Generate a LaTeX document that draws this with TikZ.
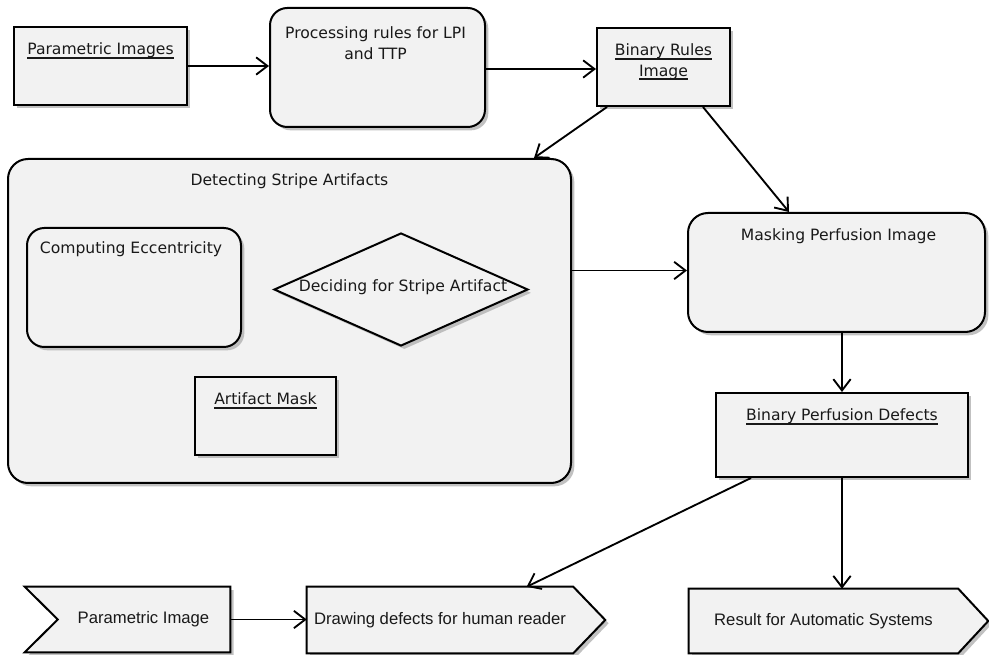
\documentclass[tikz,border=0pt]{standalone}
\usepackage{fontspec}
\setmainfont{DejaVu Sans}
\newfontfamily\botfont{Liberation Sans}
\usetikzlibrary{arrows.meta,shadows,shapes.geometric,calc}
\newcommand\ulbox[1]{\setbox0\hbox{#1}\rlap{\rule[-3pt]{\wd0}{1.4pt}}\box0}
\begin{document}
\begin{tikzpicture}[x=0.75pt,y=-0.75pt,
 sz/.style 2 args={minimum width={#1*0.75pt}, minimum height={#2*0.75pt}},
 shp/.style={draw=black, line width=1.5pt, fill=black!5,
   drop shadow={shadow xshift=2.5pt,shadow yshift=-2.5pt,fill=black!30,opacity=0.8}},
 box/.style={shp, rectangle, inner sep=0pt},
 rbox/.style={shp, rectangle, rounded corners=13pt, inner sep=0pt},
 dbox/.style={shp, diamond, inner sep=0pt},
 body/.style={rectangle, inner sep=0pt, draw=none},
 txt/.style={font=\fontsize{11.7}{15.5}\selectfont, text=black!90, inner sep=0pt, align=center},
 btxt/.style={font=\botfont\fontsize{12.5}{14}\selectfont, text=black!90, inner sep=0pt},
 arr/.style={line width=1.4pt, -{Straight Barb[length=8.5pt,width=13pt,line width=1.4pt]}},
]
\useasboundingbox (0,0) rectangle (989,655);

% top row
\node[box, sz={173}{78}] (pimgs) at (100.5,66) {};
\node[rbox, sz={215}{119}] (proc) at (377.5,67.5) {};
\node[box, sz={133}{78}] (bri) at (663.5,67) {};

% detecting stripe artifacts group
\node[rbox, rounded corners=15pt, sz={563}{324}] (det) at (289.5,321) {};
\node[rbox, sz={214}{119}] (comp) at (134,287.5) {};
\node[dbox, sz={254}{113}] (dia) at (401,289.5) {};
\node[box, sz={141}{78}] (mask) at (265.5,416) {};

% right column
\node[rbox, rounded corners=15pt, sz={297}{119}] (mpi) at (836.5,272.5) {};
\node[box, sz={252}{84}] (bpd) at (842,435) {};

% bottom row bodies
\node[body, sz={205}{65}] (pimg) at (127.5,619.5) {};
\node[body, sz={266}{66}] (drw) at (440,620) {};
\node[body, sz={269}{64}] (res) at (823.5,621) {};
\path[shp] (pimg.north west) -- (pimg.north east) -- (pimg.south east) -- (pimg.south west) -- ($(pimg.west)+(33,0)$) -- cycle;
\path[shp] (drw.north west) -- (drw.north east) -- ($(drw.east)+(32,0)$) -- (drw.south east) -- (drw.south west) -- cycle;
\path[shp] (res.north west) -- (res.north east) -- ($(res.east)+(30,0)$) -- (res.south east) -- (res.south west) -- cycle;

% texts
\node[txt] (tpimgs) at ($(pimgs.north)+(0,25)$) {\ulbox{Parametric Images}};
\node[txt] (tproc) at ($(proc.north)+(-2,36)$) {Processing rules for LPI\\and TTP};
\node[txt] (tbri) at ($(bri.north)+(0,35)$) {\ulbox{Binary Rules}\\\ulbox{Image}};
\node[txt] (tdet) at ($(det.north)+(0,23)$) {Detecting Stripe Artifacts};
\node[txt] (tcomp) at ($(comp.north)+(-3,22)$) {Computing Eccentricity};
\node[txt] (tdia) at ($(dia.center)+(2,-2)$) {Deciding for Stripe Artifact};
\node[txt] (tmask) at ($(mask.north)+(0,25)$) {\ulbox{Artifact Mask}};
\node[txt] (tmpi) at ($(mpi.north)+(2,24)$) {Masking Perfusion Image};
\node[txt] (tbpd) at ($(bpd.north)+(0,25)$) {\ulbox{Binary Perfusion Defects}};
\node[btxt] (tpimg) at ($(pimg.center)+(16,0)$) {Parametric Image};
\node[btxt] (tdrw) at (drw.center) {Drawing defects for human reader};
\node[btxt] (tres) at (res.center) {Result for Automatic Systems};

% connectors
\draw[arr] (pimgs.east) -- (pimgs.east -| proc.west);
\draw[arr] ($(proc.east)+(0,1.5)$) -- ($(proc.east -| bri.west)+(0,1.5)$);
\draw[arr] ($(bri.south west)+(11,0)$) -- ($(det.north east)+(-38,0)$);
\draw[arr] ($(bri.south east)+(-28,0)$) -- ($(mpi.north west)+(102,0)$);
\draw[arr] ($(mpi.west -| det.east)+(0,-2)$) -- ($(mpi.west)+(0,-2)$);
\draw[arr] (bpd.north |- mpi.south) -- (bpd.north);
\draw[arr] ($(bpd.south west)+(36,0)$) -- ($(drw.north west)+(220,0)$);
\draw[arr] (bpd.south) -- (bpd.south |- res.north);
\draw[arr] (pimg.east) -- (pimg.east -| drw.west);
\end{tikzpicture}
\end{document}
